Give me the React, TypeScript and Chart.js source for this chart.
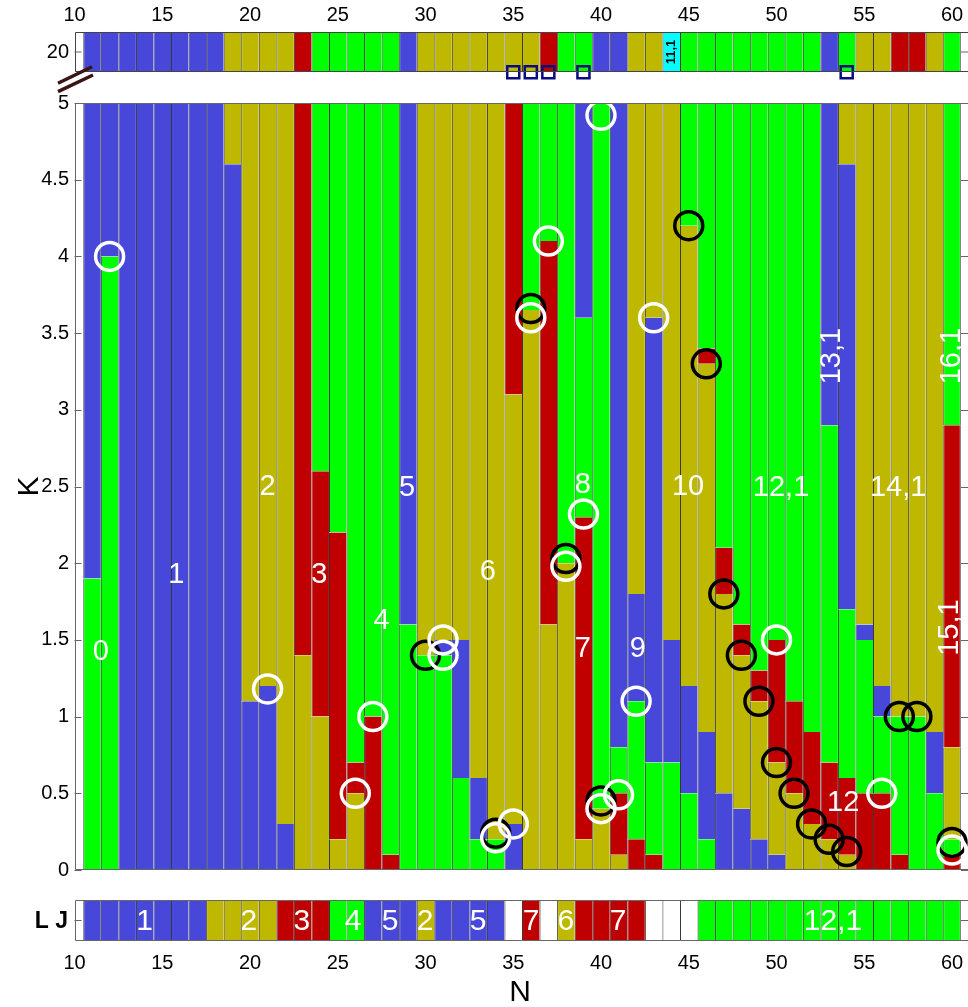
import React, { useEffect, useRef } from 'react';
import { Chart, registerables } from 'chart.js';

Chart.register(...registerables);

// ------------------------------------------------------------------ data
const columnN = [
  11, 12, 13, 14, 15, 16, 17, 18, 19, 20, 21, 22, 23, 24, 25, 26, 27, 28, 29, 30,
  31, 32, 33, 34, 35, 36, 37, 38, 39, 40, 41, 42, 43, 44, 45, 46, 47, 48, 49, 50,
  51, 52, 53, 54, 55, 56, 57, 58, 59, 60,
];

const xTickValues = [10, 15, 20, 25, 30, 35, 40, 45, 50, 55, 60];
const kTickValues = [0, 0.5, 1, 1.5, 2, 2.5, 3, 3.5, 4, 4.5, 5];
const kTickLabels = ['0', '0.5', '1', '1.5', '2', '2.5', '3', '3.5', '4', '4.5', '5'];

// state colour at K = 20 (top strip)
const topStripCodes = [
  'B', 'B', 'B', 'B', 'B', 'B', 'B', 'B', 'O', 'O', 'O', 'O', 'R', 'G', 'G', 'G', 'G', 'G', 'B', 'O',
  'O', 'O', 'O', 'O', 'O', 'O', 'R', 'G', 'G', 'B', 'B', 'O', 'O', 'C', 'G', 'G', 'G', 'G', 'G', 'G',
  'G', 'G', 'B', 'G', 'O', 'O', 'R', 'R', 'O', 'G',
];

// L J strip
const bottomStripCodes = [
  'B', 'B', 'B', 'B', 'B', 'B', 'B', 'O', 'O', 'O', 'O', 'R', 'R', 'R', 'G', 'G', 'B', 'B', 'B', 'O',
  'B', 'B', 'B', 'B', 'W', 'R', 'W', 'O', 'R', 'R', 'R', 'R', 'W', 'W', 'W', 'G', 'G', 'G', 'G', 'G',
  'G', 'G', 'G', 'G', 'G', 'G', 'G', 'G', 'G', 'G',
];

// main panel: inner K boundaries (bottom -> top) and segment colours (bottom -> top)
const mainBounds: number[][] = [
  [1.9], [4.0], [], [], [], [], [], [], [4.6], [1.1],
  [1.2], [0.3], [1.4], [1.0, 2.6], [0.2, 2.2], [0.5, 0.7], [1.0], [0.1], [1.6], [1.4],
  [1.4, 1.5], [0.6, 1.5], [0.2, 0.6], [0.2], [0.3, 3.1], [3.65], [1.6, 4.1], [2.0], [0.2, 2.3, 3.6], [0.4],
  [0.1, 0.5, 0.8], [0.2, 1.1, 1.8], [0.1, 0.7, 3.6], [0.7, 1.5], [0.5, 1.2, 4.2], [0.2, 0.9, 3.3, 3.4], [0.5, 1.8, 2.1], [0.4, 1.4, 1.6], [0.2, 1.1, 1.3], [0.1, 0.7, 1.5],
  [0.5, 1.1], [0.3, 0.9], [0.2, 0.7, 2.9], [0.1, 0.6, 1.7, 4.6], [0.5, 1.5, 1.6], [0.5, 1.0, 1.2], [0.1, 1.0], [1.0], [0.5, 0.9], [0.1, 0.2, 0.8, 2.9],
];
const mainCodes = [
  'GB', 'GB', 'B', 'B', 'B', 'B', 'B', 'B', 'BO', 'BO',
  'BO', 'BO', 'OR', 'ORG', 'ORG', 'ORG', 'RG', 'RG', 'GB', 'GO',
  'GBO', 'GBO', 'GBO', 'GO', 'BOR', 'OG', 'ORG', 'OG', 'ORGB', 'OG',
  'ORGB', 'RGBO', 'RGBO', 'GBO', 'GBOG', 'GBORG', 'BORG', 'BORG', 'BORG', 'BORG',
  'ORG', 'ORG', 'ORGB', 'ORGBO', 'RGBO', 'RGBO', 'RGO', 'GO', 'GBO', 'RGORG',
];
const kMin = 0;
const kMax = 5;

const whiteCircleN = [12, 21, 26, 27, 31, 31, 34, 35, 36, 37, 38, 39, 40, 40, 41, 42, 43, 50, 56, 60];
const whiteCircleK = [4.0, 1.18, 0.5, 1.0, 1.5, 1.4, 0.21, 0.3, 3.6, 4.1, 1.98, 2.32, 4.92, 0.4, 0.49, 1.1, 3.6, 1.5, 0.5, 0.13];
const blackCircleN = [30, 34, 36, 38, 40, 45, 46, 47, 48, 49, 50, 51, 52, 53, 54, 57, 58, 60];
const blackCircleK = [1.4, 0.24, 3.66, 2.03, 0.45, 4.2, 3.3, 1.8, 1.4, 1.1, 0.7, 0.5, 0.3, 0.2, 0.12, 1.0, 1.0, 0.18];
const squareN = [35, 36, 37, 39, 54];

const mainLabelText = ['0', '1', '2', '3', '4', '5', '6', '7', '8', '9', '10', '12,1', '14,1', '12', '13,1', '16,1', '15,1'];
const mainLabelN = [11.5, 15.8, 21.0, 23.95, 27.5, 28.95, 33.55, 38.97, 38.97, 42.1, 44.96, 50.26, 56.93, 53.8, 53.15, 59.98, 59.9];
const mainLabelK = [1.42, 1.92, 2.5, 1.92, 1.62, 2.49, 1.94, 1.44, 2.51, 1.44, 2.5, 2.49, 2.49, 0.44, 3.35, 3.35, 1.58];
const mainLabelRot = [0, 0, 0, 0, 0, 0, 0, 0, 0, 0, 0, 0, 0, 0, -90, -90, -90];

const topLabelText = ['11,1'];
const topLabelN = [44];

const bottomLabelText = ['1', '2', '3', '4', '5', '2', '5', '7', '6', '7', '12,1'];
const bottomLabelN = [14.0, 19.94, 22.96, 25.87, 27.98, 29.97, 32.99, 36.01, 38.0, 40.97, 53.22];

// ------------------------------------------------------------------ style / layout
const COLORS: Record<string, string> = {
  B: '#4747DA',
  O: '#BFB800',
  R: '#C00000',
  G: '#00FF00',
  C: '#00FFFF',
  W: '#FFFFFF',
};
const SEP = 'rgba(0,0,0,0.8)';
const FRAME = '#666666';
const FONT = '"Liberation Sans", Arial, Helvetica, sans-serif';
const W = 968;
const H = 1007;
const PLOT_LEFT = 74.5;
const PX_PER_N = 17.55;
const X_MIN = 10;
const X_MAX = X_MIN + (W - PLOT_LEFT) / PX_PER_N;
const LAST_N = columnN[columnN.length - 1];

function txt(ctx: CanvasRenderingContext2D, s: string, x: number, y: number, font: string, color: string, align: CanvasTextAlign = 'center', rot = 0) {
  ctx.save();
  ctx.translate(x, y);
  if (rot) ctx.rotate((rot * Math.PI) / 180);
  ctx.font = font;
  ctx.fillStyle = color;
  ctx.textAlign = align;
  ctx.textBaseline = 'middle';
  ctx.fillText(s, 0, 0);
  ctx.restore();
}

function line(ctx: CanvasRenderingContext2D, x1: number, y1: number, x2: number, y2: number, color: string, w = 1) {
  ctx.save();
  ctx.strokeStyle = color;
  ctx.lineWidth = w;
  ctx.beginPath();
  ctx.moveTo(x1, y1);
  ctx.lineTo(x2, y2);
  ctx.stroke();
  ctx.restore();
}

function frame(chart: any, color: string) {
  const { ctx, chartArea: a } = chart;
  const l = Math.round(a.left) + 0.5;
  const t = Math.round(a.top) + 0.5;
  const b = Math.round(a.bottom) - 0.5;
  line(ctx, l, t, W, t, color);
  line(ctx, l, b, W, b, color);
  line(ctx, l, t, l, b, color);
}

function baseOptions(padding: any, yMin: number, yMax: number) {
  return {
    responsive: false,
    animation: false as const,
    devicePixelRatio: 1,
    events: [],
    layout: { padding, autoPadding: false },
    plugins: { legend: { display: false }, tooltip: { enabled: false } },
    scales: {
      x: {
        type: 'linear' as const,
        min: X_MIN,
        max: X_MAX,
        offset: false,
        grid: { offset: false },
        ticks: { display: false },
        display: false,
        afterBuildTicks: (s: any) => {
          s.ticks = xTickValues.map((v) => ({ value: v }));
        },
      },
      y: { type: 'linear' as const, min: yMin, max: yMax, offset: false, ticks: { display: false }, display: false },
    },
  };
}

function barDataset(data: any[], colors: string[]) {
  return {
    type: 'bar' as const,
    data,
    backgroundColor: colors,
    borderColor: SEP,
    borderWidth: (c: any) => ({ left: 1, right: c.raw && c.raw.x === LAST_N ? 1 : 0, top: 0, bottom: 0 }),
    borderSkipped: false,
    barPercentage: 1,
    categoryPercentage: 1,
    grouped: false,
    inflateAmount: 0,
    order: 5,
  };
}

function stripDatasets(codes: string[]) {
  return [
    barDataset(
      columnN.map((n) => ({ x: n, y: [0, 1] })),
      codes.map((c) => COLORS[c]),
    ),
  ];
}

function mainDatasets() {
  const layers: { data: any[]; colors: string[] }[] = [];
  columnN.forEach((n, i) => {
    const b = [kMin, ...mainBounds[i], kMax];
    const codes = mainCodes[i];
    for (let j = 0; j < codes.length; j++) {
      if (!layers[j]) layers[j] = { data: [], colors: [] };
      layers[j].data.push({ x: n, y: [b[j], b[j + 1]] });
      layers[j].colors.push(COLORS[codes[j]]);
    }
  });
  const sets: any[] = layers.map((l) => barDataset(l.data, l.colors));
  const circle = (ns: number[], ks: number[], color: string, order: number) => ({
    type: 'scatter' as const,
    data: ns.map((n, i) => ({ x: n, y: ks[i] })),
    pointStyle: 'circle',
    pointRadius: 14,
    pointHoverRadius: 14,
    pointBorderWidth: 3.5,
    pointBorderColor: color,
    pointBackgroundColor: 'rgba(0,0,0,0)',
    clip: false,
    order,
  });
  sets.push(circle(blackCircleN, blackCircleK, '#000000', -1));
  sets.push(circle(whiteCircleN, whiteCircleK, '#FFFFFF', -2));
  return sets;
}

// ------------------------------------------------------------------ decorations
const topDecor = {
  id: 'decorTop',
  afterDatasetsDraw(chart: any) {
    const { ctx, chartArea: a, scales } = chart;
    frame(chart, '#444444');
    const ym = (a.top + a.bottom) / 2;
    line(ctx, a.left, ym, a.left + 7, ym, FRAME);
    line(ctx, W - 7, ym, W, ym, FRAME);
    txt(ctx, '20', 69, ym, `20px ${FONT}`, '#000', 'right');
    xTickValues.forEach((v) => txt(ctx, String(v), scales.x.getPixelForValue(v), 15.5, `20px ${FONT}`, '#000'));
    topLabelText.forEach((s, i) => txt(ctx, s, scales.x.getPixelForValue(topLabelN[i]), ym, `bold 13px ${FONT}`, '#000', 'center', -90));
    // axis break marks
    line(ctx, 58, 83.3, 92, 66.7, '#3a1515', 3.5);
    line(ctx, 58, 91.7, 93, 75, '#3a1515', 3.5);
  },
};

const mainDecor = {
  id: 'decorMain',
  afterDatasetsDraw(chart: any) {
    const { ctx, chartArea: a, scales } = chart;
    frame(chart, FRAME);
    kTickValues.forEach((v, i) => {
      const y = Math.round(scales.y.getPixelForValue(v)) + 0.5;
      line(ctx, a.left, y, a.left + 7, y, FRAME);
      line(ctx, W - 7, y, W, y, FRAME);
      txt(ctx, kTickLabels[i], 69, scales.y.getPixelForValue(v), `20px ${FONT}`, '#000', 'right');
    });
    txt(ctx, 'K', 30, (a.top + a.bottom) / 2, `30px ${FONT}`, '#000', 'center', -90);
    mainLabelText.forEach((s, i) =>
      txt(ctx, s, scales.x.getPixelForValue(mainLabelN[i]), scales.y.getPixelForValue(mainLabelK[i]), `29px ${FONT}`, '#FFFFFF', 'center', mainLabelRot[i]),
    );
  },
};

const topSquares = {
  type: 'scatter' as const,
  data: squareN.map((n) => ({ x: n, y: 0 })),
  pointStyle: 'rect',
  pointRadius: 8.5,
  pointHoverRadius: 8.5,
  pointBorderWidth: 2.5,
  pointBorderColor: '#0B0B80',
  pointBackgroundColor: 'rgba(0,0,0,0)',
  clip: false,
  order: -1,
};

const bottomDecor = {
  id: 'decorBottom',
  afterDatasetsDraw(chart: any) {
    const { ctx, chartArea: a, scales } = chart;
    frame(chart, FRAME);
    const ym = (a.top + a.bottom) / 2;
    line(ctx, a.left, ym, a.left + 7, ym, FRAME);
    line(ctx, W - 7, ym, W, ym, FRAME);
    txt(ctx, 'L J', 68, ym + 1, `bold 23px ${FONT}`, '#000', 'right');
    xTickValues.forEach((v) => txt(ctx, String(v), scales.x.getPixelForValue(v), 963, `20px ${FONT}`, '#000'));
    txt(ctx, 'N', 520, 993, `30px ${FONT}`, '#000');
    bottomLabelText.forEach((s, i) => txt(ctx, s, scales.x.getPixelForValue(bottomLabelN[i]), ym + 1, `30px ${FONT}`, '#FFFFFF'));
  },
};

// ------------------------------------------------------------------ component
export default function App() {
  const topRef = useRef<HTMLCanvasElement>(null);
  const mainRef = useRef<HTMLCanvasElement>(null);
  const botRef = useRef<HTMLCanvasElement>(null);

  useEffect(() => {
    const top = new Chart(topRef.current as HTMLCanvasElement, {
      type: 'bar',
      data: { datasets: [...stripDatasets(topStripCodes), topSquares] as any },
      options: baseOptions({ left: PLOT_LEFT, right: 0, top: 31.7, bottom: H - 72.3 }, 0, 1) as any,
      plugins: [topDecor],
    });
    const main = new Chart(mainRef.current as HTMLCanvasElement, {
      type: 'bar',
      data: { datasets: mainDatasets() as any },
      options: baseOptions({ left: PLOT_LEFT, right: 0, top: 103, bottom: H - 870 }, kMin, kMax) as any,
      plugins: [mainDecor],
    });
    const bot = new Chart(botRef.current as HTMLCanvasElement, {
      type: 'bar',
      data: { datasets: stripDatasets(bottomStripCodes) as any },
      options: baseOptions({ left: PLOT_LEFT, right: 0, top: 900, bottom: H - 941 }, 0, 1) as any,
      plugins: [bottomDecor],
    });
    return () => {
      top.destroy();
      main.destroy();
      bot.destroy();
    };
  }, []);

  const cs: React.CSSProperties = { position: 'absolute', left: 0, top: 0, width: W, height: H };
  return (
    <div style={{ position: 'absolute', left: 0, top: 0, width: W, height: H, background: '#FFFFFF', overflow: 'hidden' }}>
      <canvas ref={topRef} width={W} height={H} style={cs} />
      <canvas ref={mainRef} width={W} height={H} style={cs} />
      <canvas ref={botRef} width={W} height={H} style={cs} />
    </div>
  );
}
